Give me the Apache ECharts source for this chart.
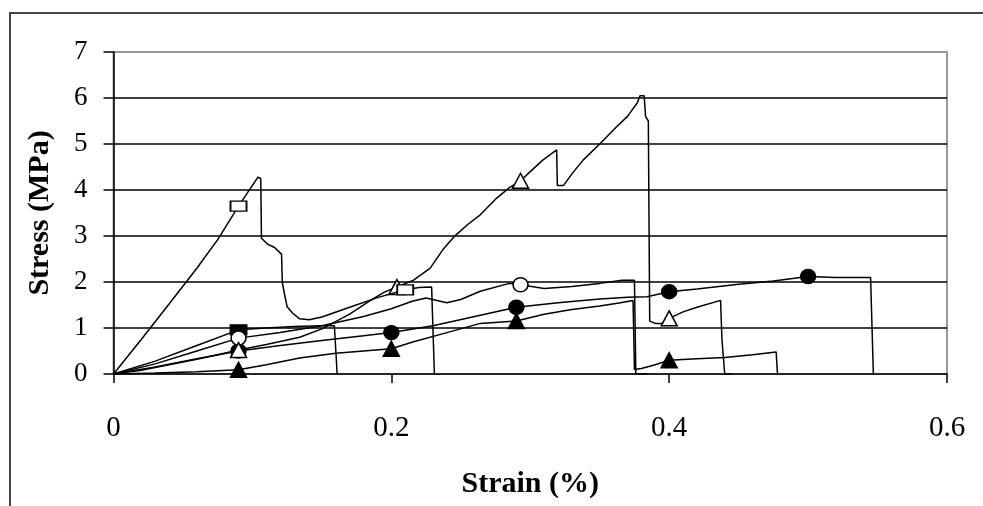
<!DOCTYPE html>
<html>
<head>
<meta charset="utf-8">
<script src="https://cdn.jsdelivr.net/npm/echarts@6/dist/echarts.min.js"></script>
<style>
  html, body { margin: 0; padding: 0; background: #fff; }
  #chart { width: 983px; height: 506px; }
</style>
</head>
<body>
<div id="chart"></div>
<script>
// Stress-strain curves of six specimens: [strain (%), stress (MPa)]
const squareOpen = [[0,0],[0.02,0.75],[0.04,1.52],[0.06,2.3],[0.075,2.92],[0.09,3.65],[0.1,4.1],[0.104,4.28],[0.106,4.25],[0.1065,2.95],[0.111,2.82],[0.116,2.75],[0.121,2.6],[0.1215,2.0],[0.123,1.75],[0.125,1.46],[0.129,1.32],[0.134,1.2],[0.141,1.18],[0.15,1.24],[0.17,1.45],[0.19,1.66],[0.21,1.83],[0.22,1.88],[0.229,1.89],[0.231,0]];
const squareOpenMarks = [5, 22];

const squareFilled = [[0,0],[0.03,0.28],[0.06,0.62],[0.09,0.96],[0.11,1.0],[0.13,1.03],[0.15,1.05],[0.159,1.05],[0.161,0]];
const squareFilledMarks = [3];

const triangleOpen = [[0,0],[0.02,0.08],[0.04,0.2],[0.06,0.32],[0.075,0.42],[0.09,0.52],[0.11,0.64],[0.134,0.8],[0.15,0.98],[0.17,1.3],[0.185,1.6],[0.195,1.78],[0.204,1.89],[0.216,2.04],[0.228,2.3],[0.237,2.7],[0.245,2.98],[0.255,3.25],[0.264,3.46],[0.275,3.8],[0.285,4.05],[0.293,4.2],[0.3,4.4],[0.309,4.65],[0.319,4.87],[0.3195,4.1],[0.324,4.1],[0.33,4.35],[0.338,4.65],[0.35,5.0],[0.362,5.37],[0.37,5.6],[0.377,5.89],[0.379,6.05],[0.382,6.05],[0.383,5.6],[0.385,5.5],[0.386,1.15],[0.39,1.1],[0.395,1.1],[0.4,1.21],[0.41,1.35],[0.42,1.45],[0.437,1.6],[0.438,0.75],[0.44,0],[0.445,0]];
const triangleOpenMarks = [5, 12, 21, 40];

const triangleFilled = [[0,0],[0.03,0.02],[0.06,0.05],[0.09,0.09],[0.11,0.2],[0.134,0.35],[0.16,0.45],[0.18,0.5],[0.2,0.55],[0.216,0.7],[0.24,0.9],[0.264,1.1],[0.29,1.15],[0.31,1.3],[0.33,1.4],[0.35,1.48],[0.365,1.55],[0.374,1.6],[0.375,0.1],[0.38,0.12],[0.39,0.2],[0.4,0.3],[0.42,0.33],[0.44,0.36],[0.46,0.42],[0.477,0.48],[0.478,0]];
const triangleFilledMarks = [3, 8, 12, 21];

const circleOpen = [[0,0],[0.03,0.22],[0.06,0.5],[0.09,0.78],[0.12,0.9],[0.15,1.05],[0.18,1.25],[0.2,1.42],[0.215,1.58],[0.225,1.65],[0.24,1.55],[0.25,1.62],[0.264,1.8],[0.285,1.97],[0.293,1.94],[0.31,1.86],[0.33,1.9],[0.35,1.97],[0.366,2.04],[0.375,2.04],[0.376,0],[0.385,0]];
const circleOpenMarks = [3, 14];

const circleFilled = [[0,0],[0.03,0.15],[0.06,0.33],[0.09,0.5],[0.12,0.62],[0.15,0.73],[0.18,0.83],[0.2,0.9],[0.23,1.05],[0.26,1.25],[0.29,1.45],[0.32,1.55],[0.35,1.63],[0.37,1.67],[0.384,1.68],[0.4,1.79],[0.42,1.85],[0.45,1.95],[0.475,2.02],[0.5,2.12],[0.52,2.1],[0.545,2.1],[0.547,0]];
const circleFilledMarks = [3, 7, 10, 15, 19];

// x and y axis ticks
const strainTicks = [0, 0.2, 0.4, 0.6];
const stressTicks = [0, 1, 2, 3, 4, 5, 6, 7];

const serif = '"Liberation Serif", "Times New Roman", serif';

function curve(name, points, marks, symbol, filled, size, z) {
  const markSet = new Set(marks);
  return {
    name,
    type: 'line',
    showSymbol: true,
    showAllSymbol: true,
    symbol: 'none',
    animation: false,
    lineStyle: { color: '#000', width: 1.5 },
    itemStyle: { color: filled ? '#000' : '#fff', borderColor: '#000', borderWidth: 1.5 },
    z,
    data: points.map((p, i) => markSet.has(i)
      ? { value: p, symbol, symbolSize: size }
      : { value: p })
  };
}

const chart = echarts.init(document.getElementById('chart'), null, { renderer: 'canvas' });
chart.setOption({
  backgroundColor: '#fff',
  animation: false,
  graphic: [{
    type: 'rect',
    shape: { x: 10, y: 13, width: 1100, height: 600 },
    style: { fill: 'none', stroke: '#444', lineWidth: 2 },
    z: 0
  }],
  grid: {
    left: 113.5, right: 36, top: 52, bottom: 132,
    show: true, borderColor: '#999', borderWidth: 2, backgroundColor: '#fff'
  },
  xAxis: {
    type: 'value',
    min: strainTicks[0], max: strainTicks[strainTicks.length - 1], interval: 0.2,
    name: 'Strain (%)', nameLocation: 'middle', nameGap: 95,
    nameTextStyle: { fontFamily: serif, fontWeight: 'bold', fontSize: 30, color: '#000' },
    axisLine: { lineStyle: { color: '#000', width: 1.5 } },
    axisTick: { inside: false, length: 9, lineStyle: { color: '#000', width: 1.5 } },
    axisLabel: { fontFamily: serif, fontSize: 29, color: '#000', margin: 40,
      formatter: v => String(+v.toFixed(1)) },
    splitLine: { show: false }
  },
  yAxis: {
    type: 'value',
    min: stressTicks[0], max: stressTicks[stressTicks.length - 1], interval: 1,
    name: 'Stress (MPa)', nameLocation: 'middle', nameGap: 58, nameRotate: 90,
    nameTextStyle: { fontFamily: serif, fontWeight: 'bold', fontSize: 30, color: '#000' },
    axisLine: { lineStyle: { color: '#000', width: 1.5 } },
    axisTick: { inside: false, length: 10, lineStyle: { color: '#000', width: 1.5 } },
    axisLabel: { fontFamily: serif, fontSize: 27, color: '#000', margin: 26 },
    splitLine: { show: true, showMinLine: false, showMaxLine: false, lineStyle: { color: '#000', width: 1.6 } }
  },
  series: [
    curve('circFilled', circleFilled, circleFilledMarks, 'circle', true, [15, 14], 2),
    curve('triFilled', triangleFilled, triangleFilledMarks, 'triangle', true, [16, 15], 3),
    curve('sqFilled', squareFilled, squareFilledMarks, 'rect', true, [16, 10], 4),
    curve('circOpen', circleOpen, circleOpenMarks, 'circle', false, [15, 14], 5),
    curve('triOpen', triangleOpen, triangleOpenMarks, 'triangle', false, [16, 15], 6),
    curve('sqOpen', squareOpen, squareOpenMarks, 'rect', false, [16, 10], 7)
  ]
});
</script>
</body>
</html>
